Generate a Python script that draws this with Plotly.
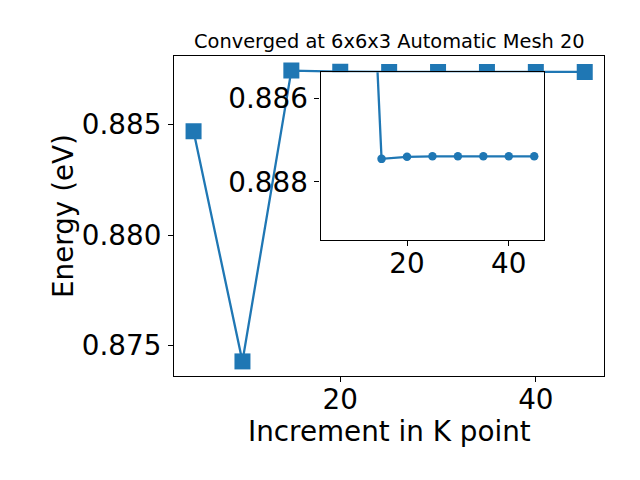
import plotly.graph_objects as go

# ---- data ----
k_points = [5, 10, 15, 20, 25, 30, 35, 40, 45]
energy = [0.88470, 0.87429, 0.88745, 0.88740, 0.88739, 0.88739, 0.88739, 0.88739, 0.88739]

title_text = "Converged at 6x6x3 Automatic Mesh 20"
x_label = "Increment in K point"
y_label = "Energy (eV)"

main_xticks = [20, 40]
main_yticks = [0.875, 0.880, 0.885]
inset_xticks = [20, 40]
inset_yticks = [0.886, 0.888]

# ---- styling ----
C = "#1f77b4"
FONT = "DejaVu Sans"
BIG = 27.8
W, H = 640, 480


def px_x(p):
    return p / W


def px_y(p):
    return 1 - p / H


fig = go.Figure()
fig.add_trace(go.Scatter(
    x=k_points, y=energy, mode="lines+markers",
    line=dict(color=C, width=2.3),
    marker=dict(symbol="square", size=16, color=C),
    xaxis="x", yaxis="y", showlegend=False, hoverinfo="skip"))
fig.add_trace(go.Scatter(
    x=k_points, y=energy, mode="lines+markers",
    line=dict(color=C, width=2.3),
    marker=dict(symbol="circle", size=8.5, color=C),
    xaxis="x2", yaxis="y2", showlegend=False, hoverinfo="skip"))

axis_common = dict(
    showgrid=False, zeroline=False, showline=True, mirror=True,
    linecolor="black", linewidth=1.1, ticks="outside", ticklen=5,
    tickwidth=1.1, tickcolor="black",
    tickfont=dict(family=FONT, size=BIG, color="black"),
    automargin=False,
)

fig.update_layout(
    width=W, height=H,
    margin=dict(l=0, r=0, t=0, b=0),
    paper_bgcolor="white", plot_bgcolor="white",
    showlegend=False,
    xaxis=dict(domain=[px_x(174), px_x(604.3)], range=[3, 47],
               tickmode="array", tickvals=main_xticks, anchor="y",
               ticklabelstandoff=-6, **axis_common),
    yaxis=dict(domain=[px_y(376), px_y(56)], range=[0.87363, 0.88811],
               tickmode="array", tickvals=main_yticks, tickformat=".3f",
               anchor="x", ticklabelstandoff=1, **axis_common),
    xaxis2=dict(domain=[px_x(320.5), px_x(544.4)], range=[3, 47],
                tickmode="array", tickvals=inset_xticks, anchor="y2",
                ticklabelstandoff=-6, **axis_common),
    yaxis2=dict(domain=[px_y(240), px_y(72.3)], range=[0.88939, 0.88538],
                tickmode="array", tickvals=inset_yticks, tickformat=".3f",
                anchor="x2", ticklabelstandoff=1, **axis_common),
    annotations=[
        dict(text=title_text, x=px_x(389), y=px_y(41), xref="paper", yref="paper",
             xanchor="center", yanchor="middle", showarrow=False,
             font=dict(family=FONT, size=19.4, color="black")),
        dict(text=x_label, x=px_x(389), y=px_y(431.7), xref="paper", yref="paper",
             xanchor="center", yanchor="middle", showarrow=False,
             font=dict(family=FONT, size=BIG, color="black")),
        dict(text=y_label, x=px_x(64), y=px_y(216), xref="paper", yref="paper",
             xanchor="center", yanchor="middle", showarrow=False, textangle=-90,
             font=dict(family=FONT, size=BIG, color="black")),
    ],
)

fig.write_html("out.html", config={"displayModeBar": False},
               post_script="document.body.style.margin='0';")
